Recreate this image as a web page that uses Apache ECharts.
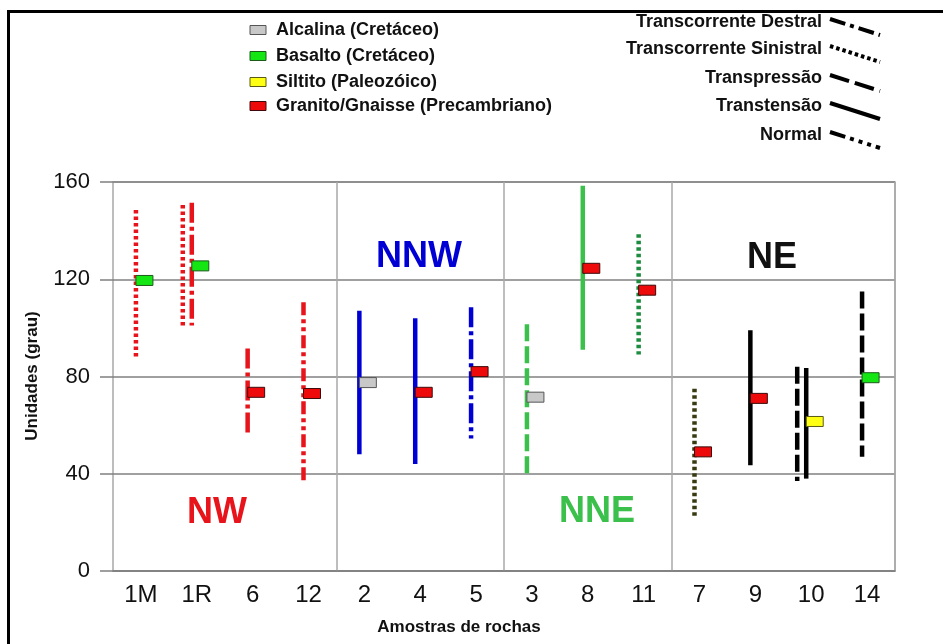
<!DOCTYPE html>
<html>
<head>
<meta charset="utf-8">
<script src="https://cdn.jsdelivr.net/npm/echarts@6/dist/echarts.min.js"></script>
<style>
html,body{margin:0;padding:0;background:#fff;}
#chart{width:943px;height:644px;}
</style>
</head>
<body>
<div id="chart"></div>
<script>
// ---------- DATA ----------
const samples = ['1M','1R','6','12','2','4','5','3','8','11','7','9','10','14'];
const yTicks = [0, 40, 80, 120, 160];

// fault ranges: [sample, min, max]
const transcorrenteSinistral = [['1M',88,148.5],['1R',100.5,150.5],['11',89,138.5],['7',21.5,75]];
const transpressao = [['3',40,101.5],['10',37,84],['14',47,115]];
const transcorrenteDestral = [['1R',101,151.5],['6',56,91.5],['5',54.5,108.5]];
const normal = [['12',36,110.5]];
const transtensao = [['2',48,107],['4',44,104],['8',91,158.5],['9',43.5,99],['10',38,83.5]];

// rock markers: [sample, value]
const alcalina = [['2',77.5],['3',71.5]];
const basalto = [['1M',119.5],['1R',125.5],['14',79.5]];
const siltito = [['10',61.5]];
const granito = [['6',73.5],['12',73],['4',73.5],['5',82],['8',124.5],['11',115.5],['7',49],['9',71]];

const zoneNames = ['NW','NNW','NNE','NE'];

// ---------- STYLES ----------
const RED = '#e8141c', BLUE = '#0000d4', LGREEN = '#3cc04c', BLACK = '#000';
const lineColors = {
  '1M':RED,'1R':RED,'6':RED,'12':RED,
  '2':BLUE,'4':BLUE,'5':BLUE,
  '3':LGREEN,'8':LGREEN,'11':'#1e8c3e',
  '7':'#3a3a12','9':BLACK,'10':BLACK,'14':BLACK
};
const FONT = '"Liberation Sans", Arial, sans-serif';

const faultDefs = [
  {name:'Transcorrente Sinistral', data:transcorrenteSinistral, dash:[3.5,3]},
  {name:'Transpressão', data:transpressao, dash:[17,5]},
  {name:'Transcorrente Destral', data:transcorrenteDestral, dash:[20,4,4,4]},
  {name:'Normal', data:normal, dash:[13,4,4,4,4,4]},
  {name:'Transtensão', data:transtensao, dash:null}
];
// slot of each line within a sample (for samples with two lines)
const slots = {};
faultDefs.forEach(f => f.data.forEach(d => { (slots[d[0]] = slots[d[0]] || []).push(f.name); }));
function lineOffset(s, name){
  const arr = slots[s]; const n = arr.length; const k = arr.indexOf(name);
  return -5 - 9 * (n - 1 - k);
}

const series = [];
faultDefs.forEach(f => {
  series.push({
    type:'custom', name:f.name, z:3,
    data: f.data.map(d => [samples.indexOf(d[0]), d[1], d[2]]),
    encode:{x:0, y:[1,2]},
    renderItem(params, api){
      const i = api.value(0);
      const s = samples[i];
      const top = api.coord([i, api.value(2)]);
      const bot = api.coord([i, api.value(1)]);
      const x = top[0] + lineOffset(s, f.name);
      return {type:'line', shape:{x1:x, y1:top[1], x2:x, y2:bot[1]},
        style:{stroke:lineColors[s], lineWidth:4.5, lineDash:f.dash, lineCap:'butt', fill:null}};
    }
  });
});

const rockDefs = [
  {name:'Alcalina (Cretáceo)', data:alcalina, fill:'#c8c8c8', stroke:'#555'},
  {name:'Basalto (Cretáceo)', data:basalto, fill:'#14e614', stroke:'#1c5a1c'},
  {name:'Siltito (Paleozóico)', data:siltito, fill:'#ffff14', stroke:'#5a5a14'},
  {name:'Granito/Gnaisse (Precambriano)', data:granito, fill:'#ee0a0a', stroke:'#3c0a0a'}
];
rockDefs.forEach(r => {
  series.push({
    type:'custom', name:r.name, z:5,
    data: r.data.map(d => [samples.indexOf(d[0]), d[1]]),
    encode:{x:0, y:1},
    renderItem(params, api){
      const i = api.value(0);
      const p = api.coord([i, api.value(1)]);
      const x = p[0] - 5;
      return {type:'rect', shape:{x:x, y:p[1]-5, width:17, height:10},
        style:{fill:r.fill, stroke:r.stroke, lineWidth:1}};
    }
  });
});

// ---------- LEGENDS / ANNOTATIONS (graphic) ----------
const graphic = [];
graphic.push({type:'rect', shape:{x:8.5, y:11.5, width:1000, height:800},
  style:{fill:null, stroke:'#000', lineWidth:3}, z:100});

const leftLegY = [30, 56, 82, 106];
rockDefs.forEach((r, k) => {
  graphic.push({type:'rect', shape:{x:250, y:leftLegY[k]-4.5, width:16, height:9},
    style:{fill:r.fill, stroke:r.stroke, lineWidth:1}});
  graphic.push({type:'text', x:276, y:leftLegY[k],
    style:{text:r.name, font:'bold 18px ' + FONT, fill:'#111', align:'left', verticalAlign:'middle'}});
});

const rightLeg = [
  {name:'Transcorrente Destral', y:22, dash:[16,5,4,5]},
  {name:'Transcorrente Sinistral', y:49, dash:[3.5,3]},
  {name:'Transpressão', y:78, dash:[20,6]},
  {name:'Transtensão', y:106, dash:null},
  {name:'Normal', y:135, dash:[16,5,4,5,4,5,4,5]}
];
rightLeg.forEach(l => {
  graphic.push({type:'text', x:822, y:l.y,
    style:{text:l.name, font:'bold 18px ' + FONT, fill:'#111', align:'right', verticalAlign:'middle'}});
  graphic.push({type:'line', shape:{x1:830, y1:l.y-3, x2:880, y2:l.y+13},
    style:{stroke:'#000', lineWidth:4, lineDash:l.dash, lineCap:'butt'}});
});

const zoneStyle = [
  {x:217, y:513, color:RED},
  {x:419, y:257, color:BLUE},
  {x:597, y:512, color:LGREEN},
  {x:772, y:258, color:'#111'}
];
zoneNames.forEach((z, k) => {
  graphic.push({type:'text', x:zoneStyle[k].x, y:zoneStyle[k].y, z:10,
    style:{text:z, font:'bold 36px ' + FONT, fill:zoneStyle[k].color, align:'center', verticalAlign:'middle'}});
});

graphic.push({type:'text', x:459, y:627,
  style:{text:'Amostras de rochas', font:'bold 17px ' + FONT, fill:'#111', align:'center', verticalAlign:'middle'}});
graphic.push({type:'text', x:32, y:376, rotation:Math.PI/2,
  style:{text:'Unidades (grau)', font:'bold 17px ' + FONT, fill:'#111', align:'center', verticalAlign:'middle'}});

// ---------- CHART ----------
const boundaryStarts = ['2','3','7'];
const chart = echarts.init(document.getElementById('chart'), null, {renderer:'canvas'});
chart.setOption({
  animation:false,
  backgroundColor:'#fff',
  grid:{left:113, right:48, top:182, bottom:73, show:true, borderColor:'#a8a8a8', borderWidth:1.5, containLabel:false},
  xAxis:{
    type:'category', data:samples, boundaryGap:true,
    axisLine:{show:true, lineStyle:{color:'#808080', width:1.5}},
    axisTick:{show:false},
    axisLabel:{fontSize:24, color:'#111', fontFamily:FONT, margin:12, interval:0},
    splitLine:{show:true, interval:(idx, val) => boundaryStarts.indexOf(val) >= 0,
      lineStyle:{color:'#a8a8a8', width:1.5}}
  },
  yAxis:{
    type:'value', min:yTicks[0], max:yTicks[yTicks.length-1], interval:40,
    axisLine:{show:false},
    axisTick:{show:true, length:13, inside:false, lineStyle:{color:'#808080', width:1.5}},
    axisLabel:{fontSize:22, color:'#111', fontFamily:FONT, margin:23},
    splitLine:{show:true, lineStyle:{color:'#808080', width:1.5}}
  },
  graphic:graphic,
  series:series
});
</script>
</body>
</html>
